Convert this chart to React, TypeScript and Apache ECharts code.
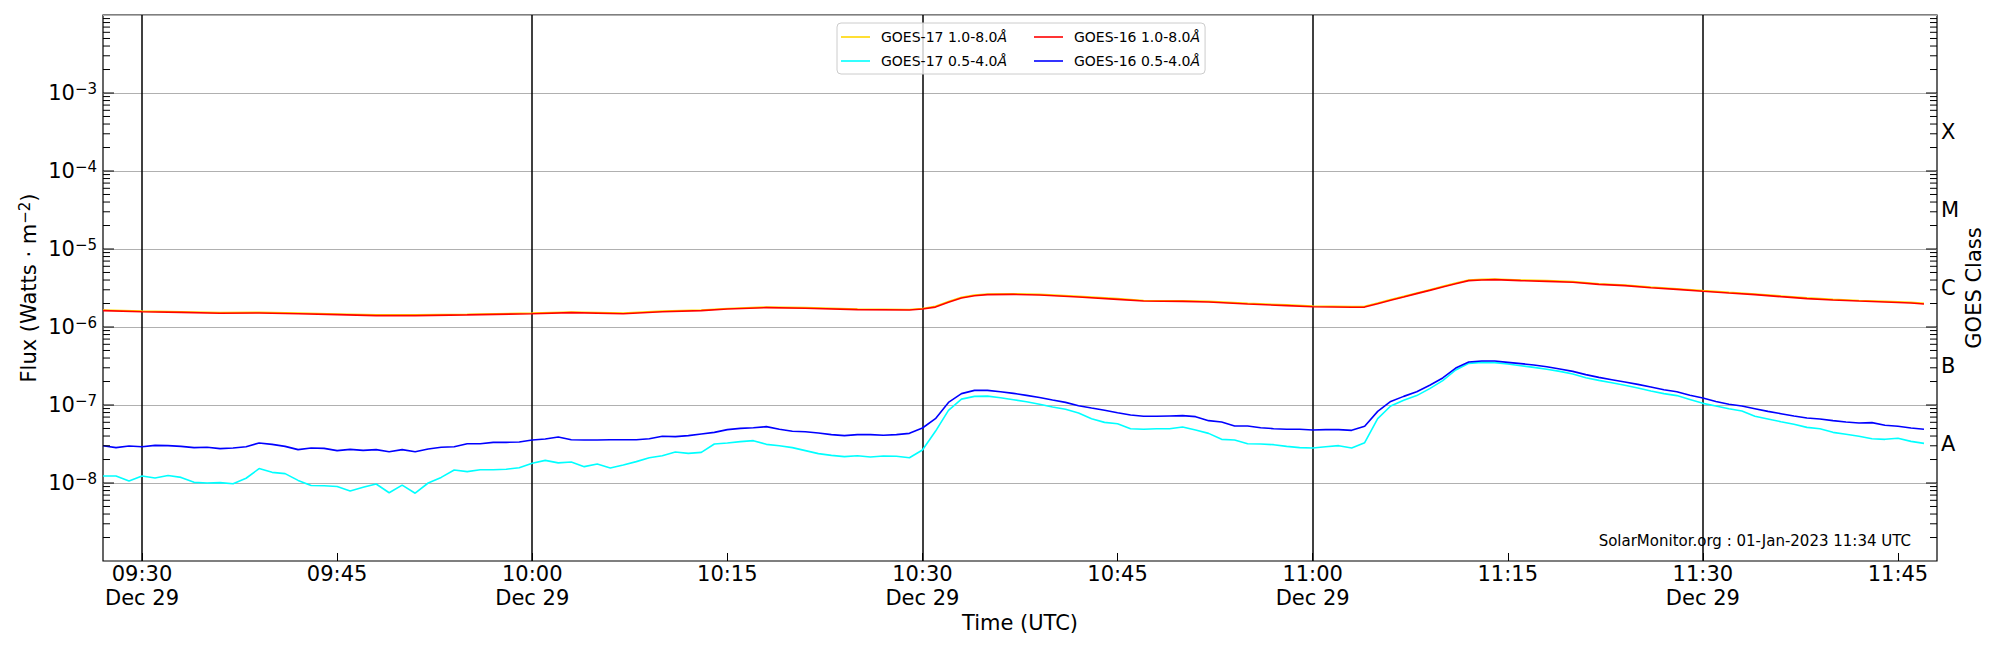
import React, { useEffect, useRef } from "react";
import * as echarts from "echarts";

const FONT = "DejaVu Sans";
const DAY = "2022-12-29";
const toMs = (hhmm: string) => Date.parse(`${DAY}T${hhmm}:00Z`);

// ---- axis extent and ticks (UTC) ----
const AXIS_START = "09:27";
const AXIS_END = "11:48";
const xTickTimes = ["09:30", "09:45", "10:00", "10:15", "10:30", "10:45", "11:00", "11:15", "11:30", "11:45"];
const xMajorTimes = ["09:30", "10:00", "10:30", "11:00", "11:30"];
const DATE_LABEL = "Dec 29";

const Y_MIN = 1e-9;
const Y_MAX = 1e-2;
const decadeExponents = [-9, -8, -7, -6, -5, -4, -3];
const labelledExponents = [-8, -7, -6, -5, -4, -3];

const classExponents = [-7.5, -6.5, -5.5, -4.5, -3.5];
const classLabels = ["A", "B", "C", "M", "X"];

// ---- 1-minute short channel data, 09:27 .. 11:47 UTC ----
const SHORT_START = "09:27";
const SHORT_COUNT = 141;

const goes17Short = [
  1.23e-8, 1.23e-8, 1.06e-8, 1.23e-8, 1.16e-8, 1.25e-8, 1.18e-8, 1.02e-8, 1.0e-8, 1.01e-8,
  9.8e-9, 1.15e-8, 1.53e-8, 1.37e-8, 1.32e-8, 1.08e-8, 9.3e-9, 9.2e-9, 9.0e-9, 7.9e-9,
  8.8e-9, 9.7e-9, 7.5e-9, 9.4e-9, 7.4e-9,
  1.0e-8, 1.18e-8, 1.47e-8, 1.4e-8, 1.48e-8, 1.48e-8, 1.5e-8, 1.57e-8,
  1.79e-8, 1.95e-8, 1.81e-8, 1.86e-8, 1.62e-8, 1.75e-8, 1.56e-8, 1.7e-8, 1.88e-8, 2.11e-8,
  2.24e-8, 2.5e-8, 2.4e-8, 2.47e-8, 3.16e-8, 3.26e-8, 3.39e-8, 3.49e-8, 3.13e-8, 3.01e-8,
  2.84e-8, 2.6e-8, 2.38e-8, 2.26e-8, 2.18e-8, 2.24e-8, 2.15e-8, 2.22e-8, 2.2e-8, 2.11e-8,
  2.65e-8, 4.6e-8, 8.55e-8, 1.19e-7, 1.29e-7, 1.3e-7, 1.24e-7, 1.17e-7, 1.1e-7, 1.02e-7,
  9.43e-8, 8.8e-8, 7.9e-8, 6.68e-8, 5.99e-8, 5.76e-8, 4.97e-8, 4.88e-8, 4.97e-8, 4.97e-8,
  5.22e-8, 4.78e-8, 4.33e-8, 3.63e-8, 3.56e-8, 3.19e-8, 3.16e-8, 3.1e-8, 2.95e-8, 2.84e-8,
  2.81e-8, 2.92e-8, 3.01e-8, 2.81e-8, 3.29e-8, 6.68e-8, 9.7e-8, 1.15e-7, 1.32e-7, 1.62e-7,
  2.05e-7, 2.81e-7, 3.42e-7, 3.52e-7, 3.49e-7, 3.35e-7, 3.19e-7, 3.04e-7, 2.87e-7, 2.7e-7,
  2.5e-7, 2.24e-7, 2.07e-7, 1.93e-7, 1.79e-7, 1.65e-7, 1.51e-7, 1.4e-7, 1.32e-7, 1.18e-7,
  1.05e-7, 9.7e-8, 8.97e-8, 8.38e-8, 7.16e-8, 6.62e-8, 6.11e-8, 5.65e-8, 5.17e-8, 4.97e-8,
  4.46e-8, 4.21e-8, 3.97e-8, 3.7e-8, 3.63e-8, 3.74e-8, 3.42e-8, 3.22e-8,
];

const goes16Short = [
  3.01e-8, 2.84e-8, 2.98e-8, 2.92e-8, 3.04e-8, 3.01e-8, 2.95e-8, 2.84e-8, 2.87e-8, 2.76e-8,
  2.81e-8, 2.92e-8, 3.26e-8, 3.13e-8, 2.95e-8, 2.68e-8, 2.81e-8, 2.78e-8, 2.6e-8, 2.7e-8,
  2.62e-8, 2.68e-8, 2.52e-8, 2.68e-8, 2.52e-8,
  2.73e-8, 2.87e-8, 2.92e-8, 3.19e-8, 3.19e-8, 3.32e-8, 3.32e-8, 3.35e-8,
  3.56e-8, 3.66e-8, 3.89e-8, 3.59e-8, 3.56e-8, 3.56e-8, 3.59e-8, 3.59e-8, 3.59e-8, 3.7e-8,
  3.97e-8, 3.93e-8, 4.05e-8, 4.25e-8, 4.46e-8, 4.83e-8, 5.02e-8, 5.12e-8, 5.28e-8, 4.88e-8,
  4.6e-8, 4.55e-8, 4.38e-8, 4.17e-8, 4.05e-8, 4.17e-8, 4.17e-8, 4.09e-8, 4.17e-8, 4.33e-8,
  5.07e-8, 6.68e-8, 1.08e-7, 1.4e-7, 1.54e-7, 1.54e-7, 1.48e-7, 1.41e-7, 1.33e-7, 1.25e-7,
  1.16e-7, 1.08e-7, 9.8e-8, 9.15e-8, 8.55e-8, 7.97e-8, 7.44e-8, 7.16e-8, 7.16e-8, 7.23e-8,
  7.3e-8, 7.09e-8, 6.3e-8, 6.05e-8, 5.38e-8, 5.38e-8, 5.12e-8, 4.97e-8, 4.88e-8, 4.88e-8,
  4.78e-8, 4.83e-8, 4.83e-8, 4.73e-8, 5.33e-8, 8.29e-8, 1.11e-7, 1.29e-7, 1.48e-7, 1.79e-7,
  2.22e-7, 2.98e-7, 3.56e-7, 3.66e-7, 3.66e-7, 3.52e-7, 3.39e-7, 3.26e-7, 3.1e-7, 2.9e-7,
  2.7e-7, 2.45e-7, 2.26e-7, 2.11e-7, 1.97e-7, 1.84e-7, 1.7e-7, 1.57e-7, 1.48e-7, 1.33e-7,
  1.23e-7, 1.11e-7, 1.02e-7, 9.7e-8, 8.97e-8, 8.29e-8, 7.74e-8, 7.23e-8, 6.81e-8, 6.62e-8,
  6.3e-8, 6.05e-8, 5.88e-8, 5.94e-8, 5.49e-8, 5.33e-8, 5.07e-8, 4.88e-8,
];

// ---- long channel, read at these times ----
const longTimes = [
  "09:27", "09:30", "09:33", "09:36", "09:39", "09:42", "09:45", "09:48", "09:51", "09:55",
  "10:00", "10:03", "10:07", "10:10", "10:13", "10:15", "10:18", "10:21", "10:25", "10:29",
  "10:30", "10:31", "10:32", "10:33", "10:34", "10:35", "10:37", "10:39", "10:42", "10:45",
  "10:47", "10:50", "10:52", "10:55", "10:58", "11:00", "11:03", "11:04", "11:05", "11:06",
  "11:07", "11:08", "11:09", "11:10", "11:11", "11:12", "11:13", "11:14", "11:16", "11:18",
  "11:20", "11:22", "11:24", "11:26", "11:28", "11:30", "11:32", "11:34", "11:36", "11:38",
  "11:40", "11:42", "11:44", "11:46", "11:47",
];

const goes16Long = [
  1.62e-6, 1.57e-6, 1.54e-6, 1.5e-6, 1.51e-6, 1.48e-6, 1.44e-6, 1.4e-6, 1.4e-6, 1.43e-6,
  1.48e-6, 1.53e-6, 1.48e-6, 1.57e-6, 1.62e-6, 1.7e-6, 1.77e-6, 1.74e-6, 1.67e-6, 1.65e-6,
  1.7e-6, 1.8e-6, 2.07e-6, 2.35e-6, 2.52e-6, 2.6e-6, 2.62e-6, 2.57e-6, 2.42e-6, 2.26e-6,
  2.15e-6, 2.13e-6, 2.09e-6, 1.97e-6, 1.88e-6, 1.82e-6, 1.79e-6, 1.8e-6, 1.99e-6, 2.2e-6,
  2.42e-6, 2.68e-6, 2.95e-6, 3.26e-6, 3.59e-6, 3.93e-6, 4.0e-6, 4.05e-6, 3.93e-6, 3.85e-6,
  3.74e-6, 3.52e-6, 3.39e-6, 3.19e-6, 3.04e-6, 2.87e-6, 2.73e-6, 2.6e-6, 2.45e-6, 2.31e-6,
  2.22e-6, 2.15e-6, 2.09e-6, 2.03e-6, 1.97e-6,
];

const goes17Long = [
  1.65e-6, 1.6e-6, 1.57e-6, 1.53e-6, 1.54e-6, 1.51e-6, 1.47e-6, 1.43e-6, 1.43e-6, 1.46e-6,
  1.51e-6, 1.56e-6, 1.51e-6, 1.6e-6, 1.65e-6, 1.73e-6, 1.8e-6, 1.77e-6, 1.7e-6, 1.68e-6,
  1.73e-6, 1.84e-6, 2.12e-6, 2.4e-6, 2.57e-6, 2.65e-6, 2.67e-6, 2.62e-6, 2.47e-6, 2.31e-6,
  2.19e-6, 2.17e-6, 2.13e-6, 2.01e-6, 1.92e-6, 1.86e-6, 1.83e-6, 1.84e-6, 2.03e-6, 2.25e-6,
  2.47e-6, 2.73e-6, 3.01e-6, 3.32e-6, 3.66e-6, 4.0e-6, 4.08e-6, 4.13e-6, 4.01e-6, 3.93e-6,
  3.82e-6, 3.59e-6, 3.46e-6, 3.25e-6, 3.1e-6, 2.93e-6, 2.78e-6, 2.65e-6, 2.5e-6, 2.36e-6,
  2.26e-6, 2.19e-6, 2.13e-6, 2.07e-6, 2.01e-6,
];

const seriesNames = {
  g17Long: "GOES-17 1.0-8.0Å",
  g17Short: "GOES-17 0.5-4.0Å",
  g16Long: "GOES-16 1.0-8.0Å",
  g16Short: "GOES-16 0.5-4.0Å",
};
const seriesColors = {
  g17Long: "#ffd700",
  g17Short: "#00ffff",
  g16Long: "#ff0000",
  g16Short: "#0000ff",
};
const WATERMARK = "SolarMonitor.org : 01-Jan-2023 11:34 UTC";

const pad2 = (n: number) => (n < 10 ? "0" : "") + n;

export default function App() {
  const ref = useRef<HTMLDivElement>(null);

  useEffect(() => {
    document.body.style.margin = "0";
    if (!ref.current) return;
    const chart = echarts.init(ref.current, undefined, { renderer: "svg" });

    const xMin = toMs(AXIS_START);
    const xMax = toMs(AXIS_END);
    const shortStart = toMs(SHORT_START);
    const shortTimes = Array.from({ length: SHORT_COUNT }, (_, i) => shortStart + i * 60000);
    const longMs = longTimes.map(toMs);

    const pair = (times: number[], vals: number[]) => vals.map((v, i) => [times[i], v]);

    // y ticks (decade major + 2..9 minor) drawn on both spines
    const yTicks: number[][] = [];
    decadeExponents.forEach((e) => {
      for (let m = 1; m <= 9; m++) {
        if (m === 1 && e === -9) continue;
        yTicks.push([xMin, m * Math.pow(10, e), m === 1 ? 1 : 0]);
      }
    });

    const lineSeries = (key: keyof typeof seriesNames, data: number[][], z: number, extra: any = {}) => ({
      type: "line",
      name: seriesNames[key],
      data,
      xAxisIndex: 0,
      yAxisIndex: 0,
      symbol: "none",
      showSymbol: false,
      silent: true,
      z,
      lineStyle: { color: seriesColors[key], width: 1.6 },
      itemStyle: { color: seriesColors[key] },
      emphasis: { disabled: true },
      ...extra,
    });

    const legendItem = (key: keyof typeof seriesNames, width: number) => ({
      name: seriesNames[key],
      icon: "rect",
      itemStyle: { color: seriesColors[key], borderWidth: 0 },
      textStyle: { width },
    });

    const option: any = {
      animation: false,
      textStyle: { fontFamily: FONT, color: "#000" },
      grid: {
        left: 103,
        right: 63,
        top: 15,
        bottom: 89,
        show: true,
        borderColor: "#000",
        borderWidth: 1.2,
        backgroundColor: "transparent",
        containLabel: false,
        outerBoundsMode: "none",
      },
      legend: {
        left: 837,
        top: 23,
        orient: "horizontal",
        width: 400,
        padding: [5, 5, 4, 4],
        itemGap: 6,
        itemWidth: 29,
        itemHeight: 1.6,
        selectedMode: false,
        backgroundColor: "rgba(255,255,255,0.8)",
        borderColor: "#cccccc",
        borderWidth: 1,
        borderRadius: 4,
        data: [
          legendItem("g17Long", 153),
          legendItem("g16Long", 131),
          "",
          legendItem("g17Short", 153),
          legendItem("g16Short", 131),
        ],
        formatter: (name: string) => `{n|${name.slice(0, -1)}}{i|${name.slice(-1)}}`,
        textStyle: {
          fontFamily: FONT,
          fontSize: 14,
          lineHeight: 18,
          color: "#000",
          rich: {
            n: { fontFamily: FONT, fontSize: 14, color: "#000", padding: [0, 0, 0, 6] },
            i: { fontFamily: FONT, fontSize: 14, color: "#000", fontStyle: "italic" },
          },
        },
      },
      xAxis: [
        {
          type: "value",
          min: xMin,
          max: xMax,
          position: "bottom",
          axisLine: { show: false },
          splitLine: { show: false },
          axisTick: {
            show: true,
            inside: true,
            length: 8,
            customValues: xTickTimes.map(toMs),
            lineStyle: { color: "#000", width: 1 },
          },
          axisLabel: {
            customValues: xTickTimes.map(toMs),
            margin: 1,
            fontFamily: FONT,
            fontSize: 21,
            lineHeight: 24,
            color: "#000",
            formatter: (v: number) => {
              const d = new Date(v);
              const hm = `${pad2(d.getUTCHours())}:${pad2(d.getUTCMinutes())}`;
              return d.getUTCMinutes() % 30 === 0 ? `${hm}\n${DATE_LABEL}` : hm;
            },
          },
          name: "Time (UTC)",
          nameLocation: "middle",
          nameGap: 51,
          nameMoveOverlap: false,
          nameTextStyle: { fontFamily: FONT, fontSize: 21, color: "#000" },
        },
      ],
      yAxis: [
        {
          type: "log",
          logBase: 10,
          min: Y_MIN,
          max: Y_MAX,
          splitNumber: 7,
          position: "left",
          axisLine: { show: false },
          axisTick: { show: false },
          splitLine: {
            show: true,
            showMinLine: false,
            showMaxLine: false,
            lineStyle: { color: "#b0b0b0", width: 1 },
          },
          axisLabel: {
            margin: 6,
            fontFamily: FONT,
            color: "#000",
            formatter: (v: number) => {
              const e = Math.round(Math.log10(v));
              if (labelledExponents.indexOf(e) < 0) return "";
              return `{b|10}{s|−${-e}}`;
            },
            rich: {
              b: { fontFamily: FONT, fontSize: 21, color: "#000" },
              s: { fontFamily: FONT, fontSize: 15, color: "#000", padding: [0, 0, 9, 0] },
            },
          },
          name: "{n|Flux (Watts · m}{s|−2}{n|)}",
          nameLocation: "middle",
          nameRotate: 90,
          nameGap: 62,
          nameMoveOverlap: false,
          nameTextStyle: {
            fontFamily: FONT,
            color: "#000",
            rich: {
              n: { fontFamily: FONT, fontSize: 21, color: "#000" },
              s: { fontFamily: FONT, fontSize: 15, color: "#000", padding: [0, 0, 9, 0] },
            },
          },
        },
        {
          type: "value",
          min: Math.log10(Y_MIN),
          max: Math.log10(Y_MAX),
          position: "right",
          axisLine: { show: false },
          axisTick: { show: false },
          splitLine: { show: false },
          axisLabel: {
            customValues: classExponents,
            margin: 4,
            fontFamily: FONT,
            fontSize: 21,
            color: "#000",
            formatter: (v: number) => {
              const i = classExponents.findIndex((c) => Math.abs(c - v) < 1e-6);
              return i >= 0 ? classLabels[i] : "";
            },
          },
          name: "GOES Class",
          nameLocation: "middle",
          nameRotate: 90,
          nameGap: 26,
          nameMoveOverlap: false,
          nameTextStyle: { fontFamily: FONT, fontSize: 21, color: "#000" },
        },
      ],
      series: [
        lineSeries("g17Long", pair(longMs, goes17Long), 2, {
          markLine: {
            silent: true,
            z: 1,
            symbol: ["none", "none"],
            label: { show: false },
            emphasis: { disabled: true },
            lineStyle: { color: "#000000", width: 1.5, type: "solid", opacity: 1 },
            data: xMajorTimes.map((t) => ({ xAxis: toMs(t) })),
          },
        }),
        lineSeries("g17Short", pair(shortTimes, goes17Short), 3),
        lineSeries("g16Long", pair(longMs, goes16Long), 4),
        lineSeries("g16Short", pair(shortTimes, goes16Short), 5),
        {
          type: "custom",
          xAxisIndex: 0,
          yAxisIndex: 0,
          silent: true,
          z: 6,
          data: yTicks,
          encode: { x: 0, y: 1 },
          renderItem: (params: any, api: any) => {
            const cs = params.coordSys;
            const y = api.coord([api.value(0), api.value(1)])[1];
            const len = api.value(2) ? 11 : 7;
            const st = { stroke: "#000", lineWidth: 1 };
            return {
              type: "group",
              children: [
                { type: "line", shape: { x1: cs.x, y1: y, x2: cs.x + len, y2: y }, style: st },
                { type: "line", shape: { x1: cs.x + cs.width, y1: y, x2: cs.x + cs.width - len, y2: y }, style: st },
              ],
            };
          },
        },
      ],
      graphic: [
        {
          type: "text",
          right: 89,
          top: 533,
          silent: true,
          style: { text: WATERMARK, fontFamily: FONT, fontSize: 15, fill: "#000" },
        },
      ],
    };

    chart.setOption(option);
    return () => chart.dispose();
  }, []);

  return <div ref={ref} style={{ width: 2000, height: 650 }} />;
}
